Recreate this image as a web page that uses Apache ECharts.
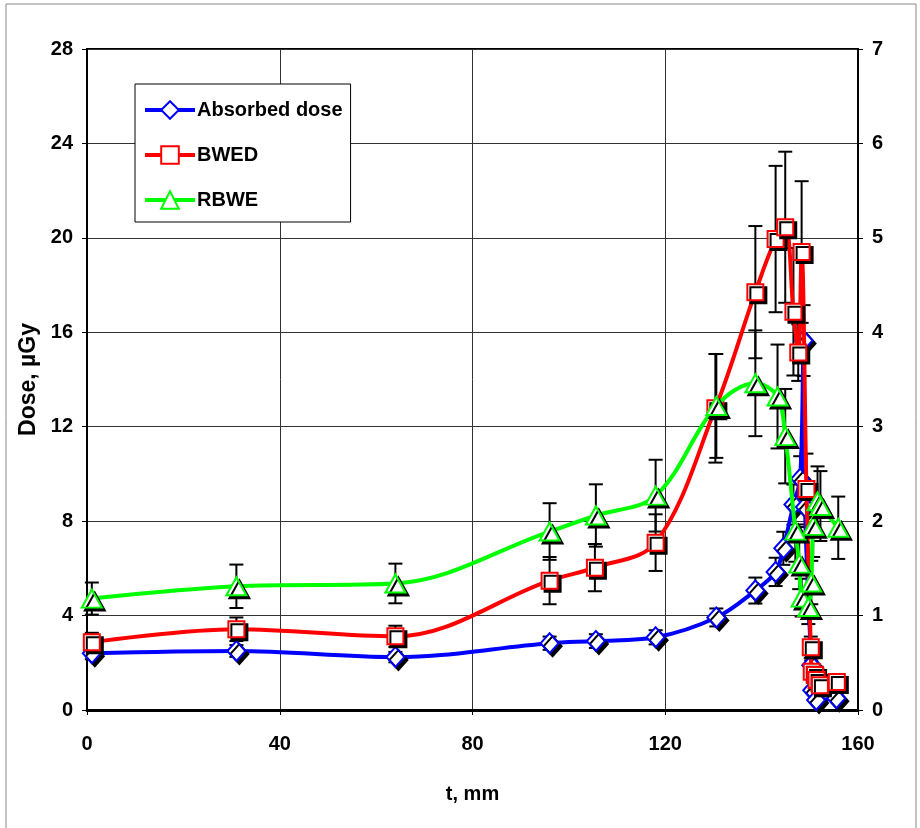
<!DOCTYPE html>
<html>
<head>
<meta charset="utf-8">
<script src="https://cdn.jsdelivr.net/npm/echarts@6/dist/echarts.min.js"></script>
<style>
html,body{margin:0;padding:0;background:#fff;}
#chart{width:920px;height:828px;}
</style>
</head>
<body>
<div id="chart"></div>
<script>
// ---- data (t in mm) ----
const xTicks = [0, 40, 80, 120, 160];
const leftTicks = [0, 4, 8, 12, 16, 20, 24, 28];
const rightTicks = [0, 1, 2, 3, 4, 5, 6, 7];

const tAbsorbed = [1, 31, 64, 96, 105.6, 118, 130.6, 138.7, 142.9, 144.5, 146.6, 148.0, 148.7, 149.0, 150.3, 150.5, 151.3, 155.5];
const absorbed  = [2.4, 2.5, 2.24, 2.83, 2.92, 3.08, 3.92, 5.06, 5.85, 6.85, 8.7, 9.8, 15.65, 8.6, 1.9, 0.84, 0.42, 0.5];
const absorbedErr = [0.25, 0.25, 0.22, 0.28, 0.29, 0.3, 0.38, 0.55, 0.6, 0.7, 0.85, 0.95, 1.5, 0.85, 0.2, 0.08, 0.05, 0.05];

const tBWED = [1, 31, 64, 96, 105.4, 118, 130.4, 138.7, 142.9, 144.9, 146.6, 147.6, 148.3, 149.3, 150.2, 150.4, 151.1, 151.4, 152.1, 155.6];
const bwed  = [2.87, 3.42, 3.12, 5.48, 6.03, 7.09, 12.78, 17.7, 19.95, 20.45, 16.87, 15.14, 19.4, 9.36, 2.66, 1.62, 1.48, 1.27, 1.05, 1.19];
const bwedErr = [0.4, 0.5, 0.45, 1.0, 1.0, 1.2, 2.3, 2.8, 3.1, 3.2, 2.7, 1.2, 3.0, 1.5, 0.45, 0.28, 0.25, 0.22, 0.18, 0.2];

const tRBWE = [1, 31, 64, 96, 105.6, 118, 130.6, 138.7, 143.3, 144.9, 147.0, 147.8, 148.3, 149.7, 150.3, 150.7, 151.6, 152.2, 155.9];
const rbwe  = [1.18, 1.31, 1.34, 1.89, 2.06, 2.27, 3.22, 3.46, 3.32, 2.9, 1.9, 1.55, 1.19, 1.09, 1.35, 1.95, 2.21, 2.16, 1.93];
const rbweErr = [0.17, 0.23, 0.21, 0.3, 0.33, 0.38, 0.55, 0.56, 0.55, 0.5, 0.33, 0.27, 0.2, 0.18, 0.23, 0.33, 0.37, 0.37, 0.33];

const seriesNames = ['Absorbed dose', 'BWED', 'RBWE'];

const FONT = "'Liberation Sans', Arial, sans-serif";

function pairs(t, v) { return t.map((x, i) => [x, v[i]]); }
function triples(t, v, e) { return t.map((x, i) => [x, v[i], e[i]]); }

function errRender(params, api) {
  const x = api.value(0), y = api.value(1), e = api.value(2);
  const top = api.coord([x, y + e]);
  const bot = api.coord([x, y - e]);
  const h = 7;
  const st = { stroke: '#000', lineWidth: 2 };
  return {
    type: 'group',
    children: [
      { type: 'line', shape: { x1: top[0], y1: top[1], x2: bot[0], y2: bot[1] }, style: st },
      { type: 'line', shape: { x1: top[0] - h, y1: top[1], x2: top[0] + h, y2: top[1] }, style: st },
      { type: 'line', shape: { x1: bot[0] - h, y1: bot[1], x2: bot[0] + h, y2: bot[1] }, style: st }
    ]
  };
}

const shadow = { shadowColor: '#000', shadowBlur: 0, shadowOffsetX: 3, shadowOffsetY: 3 };

const chart = echarts.init(document.getElementById('chart'), null, { renderer: 'canvas' });
chart.setOption({
  backgroundColor: '#fff',
  animation: false,
  graphic: [{
    type: 'rect', shape: { x: 6, y: 4, width: 910, height: 840 },
    style: { fill: 'none', stroke: '#888', lineWidth: 1 }, silent: true, z: -10
  }],
  grid: { left: 87, right: 62, top: 49, bottom: 118, show: true, borderColor: '#000', borderWidth: 2, backgroundColor: 'transparent' },
  legend: {
    data: seriesNames,
    orient: 'vertical',
    left: 135, top: 84,
    padding: [16, 8, 12, 8],
    itemGap: 25,
    itemWidth: 50,
    itemHeight: 22,
    backgroundColor: '#fff',
    borderColor: '#000',
    borderWidth: 1,
    lineStyle: { width: 4 },
    textStyle: { fontFamily: FONT, fontWeight: 'bold', fontSize: 20, color: '#000', padding: [0, 0, 0, -3] }
  },
  xAxis: {
    type: 'value', min: xTicks[0], max: xTicks[xTicks.length - 1], interval: 40,
    name: 't, mm', nameLocation: 'middle', nameGap: 74,
    nameTextStyle: { fontFamily: FONT, fontWeight: 'bold', fontSize: 20, color: '#000' },
    axisLine: { show: true, onZero: false, lineStyle: { color: '#000', width: 3 } },
    axisTick: { show: true, inside: false, length: 5, lineStyle: { color: '#000', width: 1 } },
    axisLabel: { fontFamily: FONT, fontWeight: 'bold', fontSize: 20, color: '#000', margin: 24 },
    splitLine: { show: true, lineStyle: { color: '#333', width: 1 } }
  },
  yAxis: [{
    type: 'value', min: leftTicks[0], max: leftTicks[leftTicks.length - 1], interval: 4,
    position: 'left',
    name: 'Dose, µGy', nameLocation: 'middle', nameGap: 46, nameRotate: 90,
    nameTextStyle: { fontFamily: FONT, fontWeight: 'bold', fontSize: 23, color: '#000' },
    axisLine: { show: true, lineStyle: { color: '#000', width: 2 } },
    axisTick: { show: true, inside: false, length: 5, lineStyle: { color: '#000', width: 1 } },
    axisLabel: { fontFamily: FONT, fontWeight: 'bold', fontSize: 20, color: '#000', margin: 14 },
    splitLine: { show: true, lineStyle: { color: '#333', width: 1 } }
  }, {
    type: 'value', min: rightTicks[0], max: rightTicks[rightTicks.length - 1], interval: 1,
    position: 'right',
    axisLine: { show: true, lineStyle: { color: '#000', width: 2 } },
    axisTick: { show: true, inside: false, length: 5, lineStyle: { color: '#000', width: 1 } },
    axisLabel: { fontFamily: FONT, fontWeight: 'bold', fontSize: 20, color: '#000', margin: 14 },
    splitLine: { show: false }
  }],
  series: [
    { name: 'errA', type: 'custom', yAxisIndex: 0, renderItem: errRender, data: triples(tAbsorbed, absorbed, absorbedErr), z: 1, silent: true, encode: { x: 0, y: 1 } },
    { name: 'errB', type: 'custom', yAxisIndex: 0, renderItem: errRender, data: triples(tBWED, bwed, bwedErr), z: 1, silent: true, encode: { x: 0, y: 1 } },
    { name: 'errR', type: 'custom', yAxisIndex: 1, renderItem: errRender, data: triples(tRBWE, rbwe, rbweErr), z: 1, silent: true, encode: { x: 0, y: 1 } },
    {
      name: seriesNames[0], type: 'line', yAxisIndex: 0, smooth: 0.35,
      data: pairs(tAbsorbed, absorbed),
      symbol: 'diamond', symbolSize: [18, 20],
      lineStyle: { color: '#0000ff', width: 4 },
      itemStyle: Object.assign({ color: '#fff', borderColor: '#0000ff', borderWidth: 2 }, shadow),
      z: 3
    },
    {
      name: seriesNames[1], type: 'line', yAxisIndex: 0, smooth: 0.35,
      data: pairs(tBWED, bwed),
      symbol: 'rect', symbolSize: 16,
      lineStyle: { color: '#ff0000', width: 4 },
      itemStyle: Object.assign({ color: '#fff', borderColor: '#ff0000', borderWidth: 2 }, shadow),
      z: 4
    },
    {
      name: seriesNames[2], type: 'line', yAxisIndex: 1, smooth: 0.35,
      data: pairs(tRBWE, rbwe),
      symbol: 'triangle', symbolSize: [20, 18],
      lineStyle: { color: '#00ff00', width: 4 },
      itemStyle: Object.assign({ color: '#fff', borderColor: '#00ff00', borderWidth: 2 }, shadow),
      z: 5
    }
  ]
});
</script>
</body>
</html>
